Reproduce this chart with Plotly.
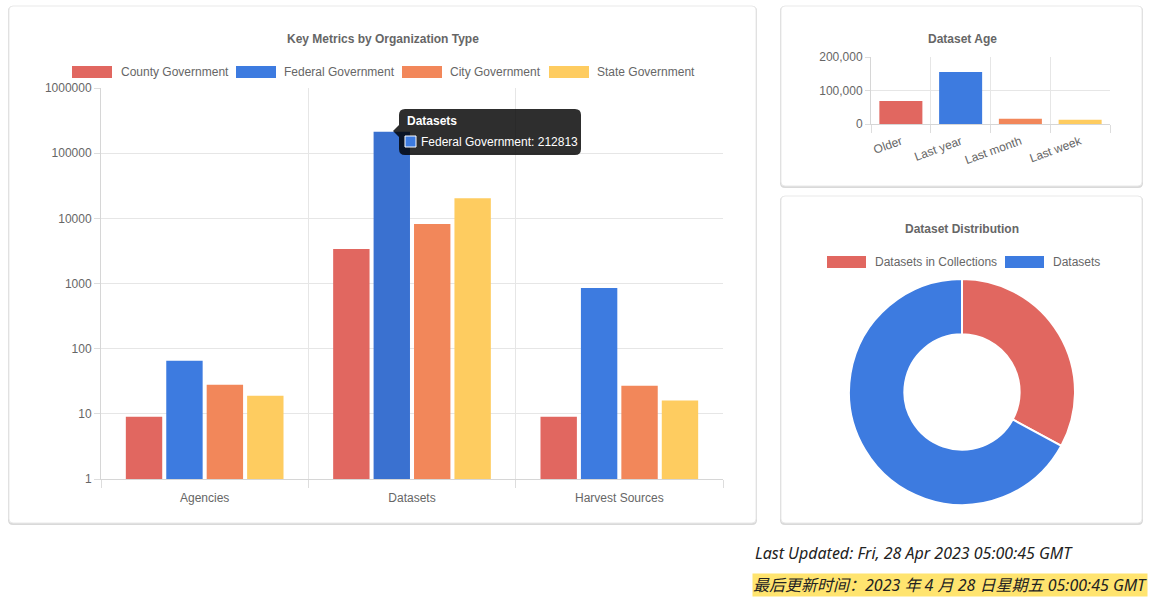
import plotly.graph_objects as go

W, H = 1152, 598


def px(x):
    return x / W


def py(y):
    return 1 - y / H


# ---------------- data ----------------
categories = ["Agencies", "Datasets", "Harvest Sources"]
series_names = ["County Government", "Federal Government", "City Government", "State Government"]
county_values = [9, 3370, 9]
federal_values = [65, 212813, 850]
city_values = [28, 8150, 27]
state_values = [19, 20400, 16]
series_values = [county_values, federal_values, city_values, state_values]
series_colors = ["#E16760", "#3D7BE0", "#F2875A", "#FECC60"]
hover_color = "#3A71D0"

y_tick_values = [1, 10, 100, 1000, 10000, 100000, 1000000]
y_tick_text = ["1", "10", "100", "1000", "10000", "100000", "1000000"]

age_labels = ["Older", "Last year", "Last month", "Last week"]
age_values = [68500, 155000, 15500, 12500]
age_tick_values = [0, 100000, 200000]

dist_labels = ["Datasets in Collections", "Datasets"]
dist_values = [120000, 244700]
dist_colors = ["#E16760", "#3D7BE0"]

FONT = "Liberation Sans, Arial, Helvetica, sans-serif"
TXT = "#666666"
GRID = "#e6e6e6"

fig = go.Figure()

# ---------------- main grouped bar (log) ----------------
for i, (name, vals) in enumerate(zip(series_names, series_values)):
    colors = [series_colors[i]] * len(vals)
    if name == "Federal Government":
        colors[categories.index("Datasets")] = hover_color
    fig.add_trace(go.Bar(
        x=categories, y=vals, name=name,
        marker=dict(color=colors, line=dict(width=0)),
        xaxis="x", yaxis="y", showlegend=False, hoverinfo="skip",
    ))

# ---------------- dataset age bar ----------------
fig.add_trace(go.Bar(
    x=age_labels, y=age_values, width=0.72,
    marker=dict(color=series_colors, line=dict(width=0)),
    xaxis="x2", yaxis="y2", showlegend=False, hoverinfo="skip",
))

# ---------------- donut ----------------
cx, cy, R = 962, 392, 113
fig.add_trace(go.Pie(
    labels=dist_labels, values=dist_values, hole=0.51, sort=False,
    direction="clockwise", rotation=0, textinfo="none",
    marker=dict(colors=dist_colors, line=dict(color="white", width=2)),
    domain=dict(x=[px(cx - R), px(cx + R)], y=[py(cy + R), py(cy - R)]),
    showlegend=False, hoverinfo="skip",
))


# ---------------- shapes ----------------
def rrect_path(x0, y0, x1, y1, r):
    rx, ry = r / W, r / H
    X0, X1 = px(x0), px(x1)
    Y0, Y1 = py(y0), py(y1)  # Y0 top (larger), Y1 bottom
    return (f"M {X0+rx},{Y0} L {X1-rx},{Y0} Q {X1},{Y0} {X1},{Y0-ry} "
            f"L {X1},{Y1+ry} Q {X1},{Y1} {X1-rx},{Y1} "
            f"L {X0+rx},{Y1} Q {X0},{Y1} {X0},{Y1+ry} "
            f"L {X0},{Y0-ry} Q {X0},{Y0} {X0+rx},{Y0} Z")


shapes = []
cards = [(9, 6, 756, 523), (781, 6, 1142, 186), (781, 196, 1142, 523)]
for (x0, y0, x1, y1) in cards:
    shapes.append(dict(type="path", path=rrect_path(x0 - 1, y0, x1 + 1, y1 + 2, 5),
                       xref="paper", yref="paper", fillcolor="#d9d9d9",
                       line=dict(width=0), layer="below"))
    shapes.append(dict(type="path", path=rrect_path(x0, y0, x1, y1, 4),
                       xref="paper", yref="paper", fillcolor="white",
                       line=dict(color="#e9e9e9", width=1), layer="below"))

annotations = []

# main legend
main_legend = [(72, 119), (236, 282), (402, 448), (549, 595)]
for (sx, tx), name, col in zip(main_legend, series_names, series_colors):
    shapes.append(dict(type="rect", xref="paper", yref="paper",
                       x0=px(sx), x1=px(sx + 40), y0=py(78), y1=py(66),
                       fillcolor=col, line=dict(width=0)))
    annotations.append(dict(text=name, x=px(tx), y=py(72), xref="paper", yref="paper",
                            xanchor="left", yanchor="middle", showarrow=False,
                            font=dict(family=FONT, size=12, color=TXT)))

# donut legend
dist_legend = [(827, 873), (1005, 1051)]
for (sx, tx), name, col in zip(dist_legend, dist_labels, dist_colors):
    shapes.append(dict(type="rect", xref="paper", yref="paper",
                       x0=px(sx), x1=px(sx + 39), y0=py(268), y1=py(256),
                       fillcolor=col, line=dict(width=0)))
    annotations.append(dict(text=name, x=px(tx), y=py(262), xref="paper", yref="paper",
                            xanchor="left", yanchor="middle", showarrow=False,
                            font=dict(family=FONT, size=12, color=TXT)))

# titles
for text, x, y in [("Key Metrics by Organization Type", 382.5, 39),
                   ("Dataset Age", 962, 39),
                   ("Dataset Distribution", 962, 229)]:
    annotations.append(dict(text=f"<b>{text}</b>", x=px(x), y=py(y), xref="paper", yref="paper",
                            xanchor="center", yanchor="middle", showarrow=False,
                            font=dict(family=FONT, size=12, color=TXT)))

# tooltip
tx0, ty0, tx1, ty1 = 399, 109, 581, 155
shapes.append(dict(type="path", path=rrect_path(tx0, ty0, tx1, ty1, 6),
                   xref="paper", yref="paper", fillcolor="rgba(0,0,0,0.82)",
                   line=dict(width=0), layer="above"))
shapes.append(dict(type="path",
                   path=f"M {px(tx0)},{py(125)} L {px(tx0-6)},{py(131)} L {px(tx0)},{py(137)} Z",
                   xref="paper", yref="paper", fillcolor="rgba(0,0,0,0.82)",
                   line=dict(width=0), layer="above"))
shapes.append(dict(type="rect", xref="paper", yref="paper",
                   x0=px(405), x1=px(416), y0=py(147), y1=py(136),
                   fillcolor=series_colors[1], line=dict(color="white", width=1), layer="above"))
fed_idx = series_names.index("Federal Government")
ds_idx = categories.index("Datasets")
annotations.append(dict(text=f"<b>{categories[ds_idx]}</b>", x=px(405), y=py(121),
                        xref="paper", yref="paper", xanchor="left", yanchor="middle",
                        showarrow=False, font=dict(family=FONT, size=12, color="white")))
annotations.append(dict(text=f"{series_names[fed_idx]}: {series_values[fed_idx][ds_idx]}",
                        x=px(419), y=py(142), xref="paper", yref="paper",
                        xanchor="left", yanchor="middle", showarrow=False,
                        font=dict(family=FONT, size=12, color="white")))

# footer text
FOOT = "Noto Sans, Noto Sans CJK SC, sans-serif"
annotations.append(dict(text="Last Updated: Fri, 28 Apr 2023 05:00:45 GMT",
                        x=px(753), y=py(553), xref="paper", yref="paper",
                        xanchor="left", yanchor="middle", showarrow=False,
                        font=dict(family=FOOT, size=16, color="#222222", style="italic")))
annotations.append(dict(text="最后更新时间：2023 年 4 月 28 日星期五 05:00:45 GMT",
                        x=px(752), y=py(585), xref="paper", yref="paper",
                        xanchor="left", yanchor="middle", showarrow=False,
                        bgcolor="#FFE46F", borderpad=0,
                        font=dict(family=FOOT, size=16, color="#222222", style="italic")))

axis_font = dict(family=FONT, size=12, color=TXT)

fig.update_layout(
    template="none",
    width=W, height=H, autosize=False,
    margin=dict(l=0, r=0, t=0, b=0, pad=0),
    paper_bgcolor="white", plot_bgcolor="rgba(0,0,0,0)",
    barmode="group", bargap=0.22, bargroupgap=0.1,
    font=dict(family=FONT, color=TXT),
    shapes=shapes, annotations=annotations,
    xaxis=dict(domain=[px(101), px(723)], anchor="y", type="category",
               tickson="boundaries", ticks="outside", ticklen=8, tickcolor="#dddddd",
               ticklabelstandoff=8,
               showgrid=True, gridcolor=GRID, showline=True, linecolor="#d6d6d6",
               tickfont=axis_font, fixedrange=True, automargin=False),
    yaxis=dict(domain=[py(479), py(88)], anchor="x", type="log", range=[0, 6],
               tickvals=y_tick_values, ticktext=y_tick_text, ticks="outside",
               ticklen=6, tickcolor="#dddddd", showgrid=True, gridcolor=GRID,
               showline=True, linecolor="#d6d6d6", zeroline=False,
               tickfont=axis_font, fixedrange=True, automargin=False),
    xaxis2=dict(domain=[px(871), px(1110)], anchor="y2", type="category",
                tickson="boundaries", ticks="outside", ticklen=8, tickcolor="#dddddd",
                ticklabelstandoff=5,
                tickangle=-20, showgrid=True, gridcolor=GRID, showline=True,
                linecolor="#d6d6d6", tickfont=axis_font, fixedrange=True, automargin=False),
    yaxis2=dict(domain=[py(124), py(57)], anchor="x2", range=[0, 200000],
                tickvals=age_tick_values, tickformat=",", ticks="outside", ticklen=5,
                tickcolor="#dddddd", showgrid=True, gridcolor=GRID, showline=True,
                linecolor="#d6d6d6", zeroline=False, tickfont=axis_font, fixedrange=True,
                automargin=False),
)

fig.write_html("out.html", config={"displayModeBar": False})
